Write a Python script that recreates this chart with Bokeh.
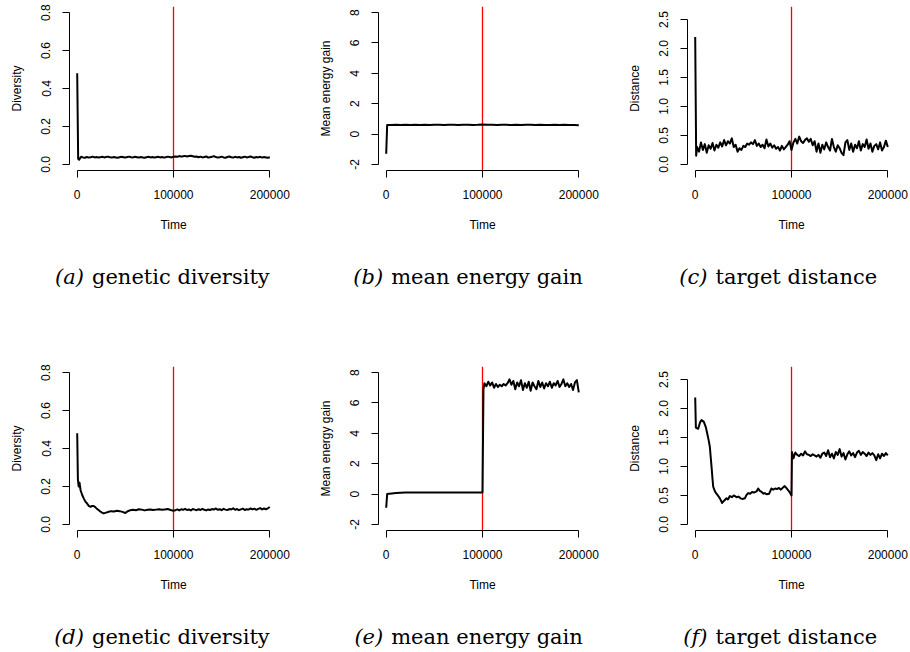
from bokeh.plotting import figure
from bokeh.models import FixedTicker, PrintfTickFormatter
from bokeh.layouts import column, row
from bokeh.core.properties import value
from bokeh.embed import file_html
from bokeh.resources import INLINE

# ---------------- data ----------------
step2k = list(range(2000, 200001, 2000))

# (a) genetic diversity, run 1
time_a = [0, 1000] + step2k
div_a = [0.48, 0.03,
         0.025, 0.040, 0.037, 0.035, 0.039, 0.036, 0.038, 0.041, 0.037, 0.039,
         0.036, 0.038, 0.040, 0.037, 0.039, 0.041, 0.038, 0.036, 0.039, 0.037,
         0.035, 0.038, 0.040, 0.038, 0.036, 0.039, 0.041, 0.038, 0.037, 0.040,
         0.038, 0.036, 0.039, 0.037, 0.035, 0.038, 0.040, 0.037, 0.039, 0.036,
         0.038, 0.040, 0.037, 0.039, 0.036, 0.038, 0.041, 0.039, 0.037, 0.040,
         0.042, 0.040, 0.044, 0.041, 0.043, 0.045, 0.042, 0.044, 0.046, 0.043,
         0.040, 0.042, 0.038, 0.041, 0.037, 0.039, 0.042, 0.036, 0.038, 0.040,
         0.044, 0.039, 0.036, 0.038, 0.041, 0.037, 0.035, 0.039, 0.042, 0.038,
         0.036, 0.040, 0.037, 0.039, 0.035, 0.038, 0.041, 0.037, 0.039, 0.042,
         0.038, 0.035, 0.039, 0.037, 0.040, 0.036, 0.039, 0.037, 0.035, 0.038]

# (b) mean energy gain, run 1
time_b = [0, 1000] + list(range(5000, 200001, 5000))
gain_a = [-1.3, 0.60,
          0.60, 0.61, 0.60, 0.62, 0.60, 0.61, 0.59, 0.61, 0.60, 0.62,
          0.61, 0.60, 0.62, 0.61, 0.60, 0.61, 0.62, 0.60, 0.61, 0.63,
          0.62, 0.61, 0.60, 0.62, 0.61, 0.59, 0.61, 0.60, 0.62, 0.61,
          0.60, 0.61, 0.59, 0.60, 0.62, 0.60, 0.61, 0.59, 0.60, 0.58]

# (c) target distance, run 1
time_c = [0, 1000] + step2k
dist_a = [2.20, 0.15,
          0.30, 0.22, 0.38, 0.25, 0.35, 0.20, 0.33, 0.27, 0.37, 0.24,
          0.34, 0.29, 0.38, 0.31, 0.42, 0.33, 0.40, 0.36, 0.45, 0.30,
          0.34, 0.22, 0.28, 0.25, 0.32, 0.30, 0.36, 0.34, 0.38, 0.35,
          0.42, 0.32, 0.36, 0.30, 0.34, 0.28, 0.43, 0.31, 0.36, 0.29,
          0.33, 0.27, 0.30, 0.24, 0.32, 0.26, 0.30, 0.34, 0.40, 0.25,
          0.38, 0.44, 0.36, 0.48, 0.40, 0.37, 0.42, 0.45, 0.39, 0.44,
          0.33, 0.40, 0.22, 0.36, 0.20, 0.34, 0.26, 0.38, 0.30, 0.24,
          0.44, 0.30, 0.22, 0.33, 0.28, 0.20, 0.16, 0.38, 0.42, 0.25,
          0.36, 0.22, 0.34, 0.28, 0.40, 0.24, 0.35, 0.30, 0.43, 0.27,
          0.36, 0.22, 0.32, 0.35, 0.26, 0.38, 0.24, 0.30, 0.41, 0.30]

step2k_late = list(range(102000, 200001, 2000))

# (d) genetic diversity, run 2
time_d = [0, 700, 1500, 2400, 3500, 5200, 6900, 8500, 10300, 12000,
          13800, 15500, 17200, 19000, 20500, 22400, 24000, 25800, 27600, 30000,
          32800, 35000, 38000, 41400, 44000, 47000, 50000, 52000, 55200, 58000,
          61000, 64000, 67000, 70000, 73000, 76000, 79000, 82000, 85000, 88000,
          91000, 94000, 97000, 100000] + step2k_late
div_b = [0.48, 0.24, 0.20, 0.22, 0.18, 0.155, 0.136, 0.12, 0.11, 0.098,
         0.093, 0.097, 0.097, 0.090, 0.082, 0.075, 0.068, 0.062, 0.058, 0.062,
         0.067, 0.070, 0.068, 0.072, 0.070, 0.066, 0.060, 0.068, 0.075, 0.077,
         0.075, 0.080, 0.078, 0.074, 0.077, 0.079, 0.076, 0.078, 0.080, 0.077,
         0.079, 0.081, 0.076, 0.072,
         0.075, 0.079, 0.074, 0.080, 0.077, 0.082, 0.076, 0.079, 0.074, 0.081,
         0.078, 0.075, 0.080, 0.076, 0.082, 0.077, 0.074, 0.079, 0.076, 0.081,
         0.078, 0.084, 0.077, 0.080, 0.075, 0.082, 0.078, 0.076, 0.081, 0.079,
         0.085, 0.077, 0.081, 0.075, 0.079, 0.083, 0.076, 0.080, 0.078, 0.084,
         0.079, 0.083, 0.077, 0.082, 0.086, 0.079, 0.084, 0.080, 0.085, 0.092]

# (e) mean energy gain, run 2
time_e = [0, 1000, 3000, 6000, 10000, 15000, 20000, 30000, 40000, 50000,
          60000, 70000, 80000, 90000, 100000, 101000] + step2k_late
gain_b = [-0.9, 0.0, 0.02, 0.04, 0.07, 0.09, 0.10, 0.10, 0.11, 0.10,
          0.11, 0.10, 0.11, 0.10, 0.10, 6.90,
          7.30, 7.10, 7.40, 7.15, 7.35, 7.00, 7.25, 7.05, 7.20, 7.10,
          7.25, 7.15, 7.30, 7.55, 7.20, 7.45, 6.90, 7.35, 7.10, 7.50,
          6.85, 7.30, 7.00, 7.40, 6.80, 7.35, 7.10, 6.90, 7.45, 7.05,
          7.35, 6.95, 7.30, 7.10, 7.40, 7.00, 7.30, 7.15, 7.45, 7.05,
          7.25, 7.55, 7.10, 7.30, 7.05, 7.25, 6.85, 7.35, 7.50, 6.70]

# (f) target distance, run 2
time_f = [0, 700, 3100, 5000, 6600, 9000, 11000, 12500, 14000, 15200,
          16000, 17000, 18000, 18700, 20500, 22100, 24000, 25600, 28000, 30000,
          32500, 34000, 36000, 38000, 40000, 42900, 45000, 47000, 49000, 51600,
          53000, 55000, 57000, 59000, 61000, 63700, 65400, 67000, 69000, 71000,
          72300, 74000, 76800, 79200, 81000, 83000, 85000, 87000, 89000, 91300,
          93000, 95000, 97000, 99000, 100000, 100500] + step2k_late
dist_b = [2.19, 1.67, 1.65, 1.76, 1.80, 1.77, 1.68, 1.57, 1.45, 1.34,
          1.18, 0.99, 0.78, 0.65, 0.57, 0.53, 0.49, 0.45, 0.37, 0.41,
          0.45, 0.43, 0.49, 0.47, 0.50, 0.47, 0.48, 0.45, 0.44, 0.45,
          0.50, 0.54, 0.53, 0.56, 0.55, 0.57, 0.62, 0.58, 0.56, 0.53,
          0.54, 0.52, 0.53, 0.62, 0.60, 0.62, 0.61, 0.63, 0.60, 0.64,
          0.66, 0.62, 0.58, 0.53, 0.50, 1.25,
          1.14, 1.24, 1.20, 1.18, 1.22, 1.19, 1.26, 1.21, 1.20, 1.18,
          1.21, 1.19, 1.17, 1.20, 1.15, 1.22, 1.24, 1.18, 1.28, 1.16,
          1.22, 1.14, 1.25, 1.20, 1.30, 1.17, 1.23, 1.12, 1.21, 1.26,
          1.19, 1.23, 1.16, 1.24, 1.27, 1.20, 1.25, 1.22, 1.18, 1.24,
          1.20, 1.23, 1.19, 1.11, 1.21, 1.14, 1.22, 1.18, 1.23, 1.19]

x_ticks = [0, 100000, 200000]
change_time = 100000
div_ticks = [0, 0.2, 0.4, 0.6, 0.8]
gain_ticks = [-2, 0, 2, 4, 6, 8]
dist_ticks = [0, 0.5, 1.0, 1.5, 2.0, 2.5]

cap_letters = ["(a)", "(b)", "(c)", "(d)", "(e)", "(f)"]
cap_texts = ["genetic diversity", "mean energy gain", "target distance",
             "genetic diversity", "mean energy gain", "target distance"]

# ---------------- styling / layout ----------------
SANS = "Liberation Sans"
SERIF = "DejaVu Serif"
FRAME_W, FRAME_H = 208, 164
LEFT = 69
COL_RIGHT = [32, 32, 15]
PLOT_H = 250
X_RANGE = (-8000, 208000)


def panel(times, vals, yrange, yticks, yfmt, ylabel, border_r):
    p = figure(frame_width=FRAME_W, frame_height=FRAME_H,
               x_range=X_RANGE, y_range=yrange,
               min_border_left=LEFT, min_border_right=border_r,
               min_border_top=6, min_border_bottom=PLOT_H - 6 - FRAME_H,
               output_backend="svg", toolbar_location=None)
    p.outline_line_color = None
    p.xgrid.visible = False
    p.ygrid.visible = False
    p.background_fill_color = "white"
    p.border_fill_color = "white"

    # vertical red marker at the environment change (spans the whole plot region)
    p.segment(x0=[change_time], y0=[yrange[0]], x1=[change_time], y1=[yrange[1]],
              line_color="#ff0000", line_width=1.3)
    p.line(times, vals, line_color="black", line_width=2, line_join="round")

    for ax in (p.xaxis[0], p.yaxis[0]):
        ax.axis_line_color = "black"
        ax.major_tick_line_color = "black"
        ax.major_tick_in = 0
        ax.major_tick_out = 7
        ax.minor_tick_line_color = None
        ax.major_label_text_font = SANS
        ax.major_label_text_font_size = "12px"
        ax.major_label_text_color = "black"
        ax.axis_label_text_font = SANS
        ax.axis_label_text_font_size = "12px"
        ax.axis_label_text_font_style = "normal"
        ax.axis_label_text_color = "black"

    xa = p.xaxis[0]
    xa.ticker = FixedTicker(ticks=x_ticks)
    xa.formatter = PrintfTickFormatter(format="%d")
    xa.bounds = (x_ticks[0], x_ticks[-1])
    xa.axis_label = "Time"
    xa.major_label_standoff = 12
    xa.axis_label_standoff = 16

    ya = p.yaxis[0]
    ya.ticker = FixedTicker(ticks=yticks)
    ya.formatter = PrintfTickFormatter(format=yfmt)
    ya.bounds = (yticks[0], yticks[-1])
    ya.axis_label = ylabel
    ya.major_label_orientation = "vertical"
    ya.major_label_standoff = 12
    ya.axis_label_standoff = 15
    return p


def caption(idx, height, baseline_from_top, split):
    w = LEFT + FRAME_W + COL_RIGHT[idx % 3]
    c = figure(width=w, height=height, x_range=(0, w), y_range=(0, height),
               min_border=0, output_backend="svg", toolbar_location=None)
    c.axis.visible = False
    c.xgrid.visible = False
    c.ygrid.visible = False
    c.outline_line_color = None
    c.background_fill_color = "white"
    c.border_fill_color = "white"
    y = height - baseline_from_top
    c.text(x=[LEFT + split - 4], y=[y], text=[cap_letters[idx]],
           text_align="right", text_baseline="alphabetic",
           text_font=value(SERIF), text_font_style="italic",
           text_font_size="21px", text_color="black")
    c.text(x=[LEFT + split + 4], y=[y], text=[cap_texts[idx]],
           text_align="left", text_baseline="alphabetic",
           text_font=value(SERIF), text_font_size="21px", text_color="black")
    return c


DIV_R = (-0.032, 0.832)
GAIN_R = (-2.4, 8.4)
DIST_R = (-0.105, 2.725)
splits = [18.5, 8.7, 24]

pa = panel(time_a, div_a, DIV_R, div_ticks, "%.1f", "Diversity", COL_RIGHT[0])
pb = panel(time_b, gain_a, GAIN_R, gain_ticks, "%d", "Mean energy gain", COL_RIGHT[1])
pc = panel(time_c, dist_a, DIST_R, dist_ticks, "%.1f", "Distance", COL_RIGHT[2])
pd = panel(time_d, div_b, DIV_R, div_ticks, "%.1f", "Diversity", COL_RIGHT[0])
pe = panel(time_e, gain_b, GAIN_R, gain_ticks, "%d", "Mean energy gain", COL_RIGHT[1])
pf = panel(time_f, dist_b, DIST_R, dist_ticks, "%.1f", "Distance", COL_RIGHT[2])

caps1 = [caption(i, 110, 26, splits[i]) for i in range(3)]
caps2 = [caption(i + 3, 40, 26, splits[i]) for i in range(3)]

layout = column(row(pa, pb, pc), row(*caps1), row(pd, pe, pf), row(*caps2))

open("out.html", "w").write(file_html(layout, INLINE))
